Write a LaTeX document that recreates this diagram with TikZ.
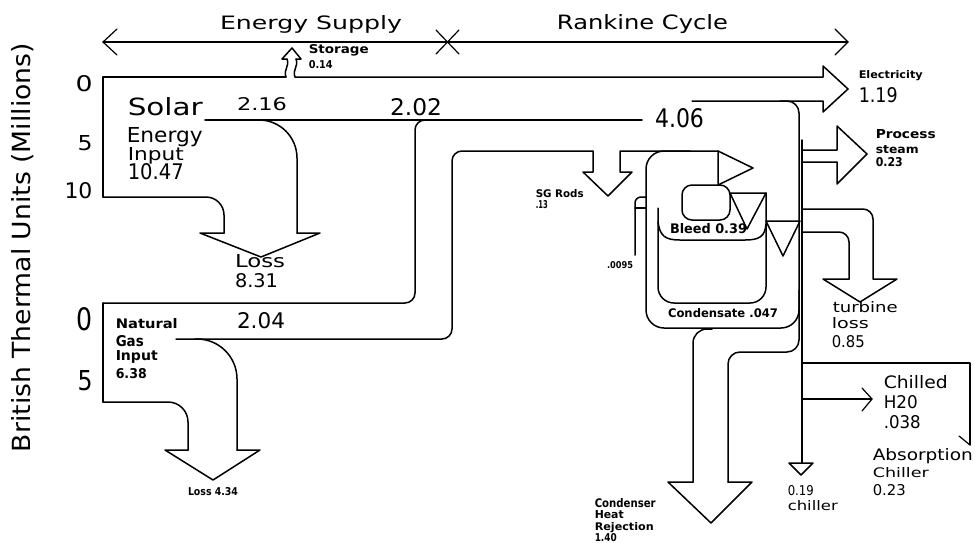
\documentclass[tikz,border=0pt]{standalone}
\usepackage{fontspec}
\setmainfont{DejaVu Sans}
\usepackage{graphicx}
\newcommand\fb[3]{\resizebox{#1pt}{#2pt}{#3}}
\begin{document}
\begin{tikzpicture}[x=1pt,y=-1pt,line width=1.5pt,line join=round,line cap=round,
  lb/.style={inner sep=0pt,anchor=base},
  lw/.style={inner sep=0pt,anchor=base west},
  thinl/.style={line width=1.2pt}]
\useasboundingbox (0,0) rectangle (975,542);
% scale arrows
\draw[thinl] (103,42) -- (848,42);
\draw[thinl] (117,29) -- (103,42) -- (117,55);
\draw[thinl] (835,29) -- (848,42) -- (835,55);
\draw[thinl] (436,30) -- (459,54);
\draw[thinl] (436,54) -- (459,30);
% solar band
\draw (286,77) -- (103,77) -- (103,197);
\draw[rounded corners=18] (103,197) -- (224,197) -- (224,233);
\draw (224,233) -- (200,233) -- (261,257) -- (320,233) -- (297,233);
\draw[rounded corners=38] (297,233) -- (297,120) -- (262,120);
\draw (205,120) -- (642,120);
% storage
\draw (286,77) .. controls (283,70) and (290,66) .. (287,59);
\draw (295,77) .. controls (292,70) and (299,66) .. (296,59);
\draw (287,59) -- (282,59) -- (292,48) -- (301,59) -- (296,59);
% top line and electricity
\draw (295,77) -- (823,77) -- (823,66) -- (848,89) -- (823,112) -- (823,101) -- (692,101);
\draw[rounded corners=12] (780,101) -- (799,101) -- (799,352) -- (728,352) -- (728,482);
% natural gas
\draw[rounded corners=10] (430,120) -- (415,120) -- (415,303) -- (103,303);
\draw (103,303) -- (103,402);
\draw[rounded corners=20] (103,402) -- (188,402) -- (188,450);
\draw (188,450) -- (165,450) -- (213,480) -- (260,450) -- (237,450);
\draw[rounded corners=40] (237,450) -- (237,339) -- (195,339);
\draw[rounded corners=10] (176,339) -- (452,339) -- (452,151) -- (593,151);
\draw (593,151) -- (593,172) -- (583,172) -- (608,196) -- (632,172) -- (620,172) -- (620,151) -- (718,151);
\draw (718,151) -- (753,168) -- (718,185) -- cycle;
% outer box
\draw[rounded corners=18] (690,151) -- (646,151) -- (646,328) -- (799,328) -- (799,290);
% .0095 branch
\draw[rounded corners=6] (646,197) -- (635,197) -- (635,255);
\draw (635,208) -- (646,208);
% middle U
\draw[rounded corners=16] (658,208) -- (658,303) -- (766,303) -- (766,193);
% bleed U
\draw (658,222) .. controls (660,236) and (665,240) .. (680,240) -- (745,240) .. controls (760,240) and (765,236) .. (766,224);
% small rounded box
\draw[rounded corners=10] (682,185) rectangle (730,220);
% triangles
\draw (730,193) -- (766,193) -- (747,229) -- cycle;
\draw (766,221) -- (800,221) -- (783,256) -- cycle;
% condenser
\draw[rounded corners=14] (712,329) -- (693,329) -- (693,482);
\draw (693,482) -- (668,482) -- (711,523) -- (752,482) -- (728,482);
% vertical and chiller
\draw (802,140) -- (802,463);
\draw (789,463) -- (813,463) -- (801,475) -- cycle;
% process steam
\draw (802,150) -- (837,150) -- (837,126) -- (867,154) -- (837,184) -- (837,162) -- (802,162);
% turbine loss
\draw[rounded corners=10] (802,209) -- (873,209) -- (873,279);
\draw[rounded corners=10] (802,232) -- (849,232) -- (849,279);
\draw (849,279) -- (823,279) -- (860,302) -- (897,279) -- (873,279);
% chilled
\draw[thinl] (802,363) -- (970,363) -- (970,445);
\draw[thinl] (959,436) -- (970,445);
\draw[thinl] (802,399) -- (872,399);
\draw[thinl] (862,388) -- (872,399) -- (862,411);
% texts
\node[lb] (es) at (311,29) {\fb{182}{14}{Energy Supply}};
\node[lb] (rc) at (642.5,29) {\fb{171}{15}{Rankine Cycle}};
\node[lb,rotate=90] (ax) at (30,247.5) {\fb{409}{19}{British Thermal Units (Millions)}};
\node[lb] (t0) at (84,91) {\fb{17}{16}{0}};
\node[lb] (t5) at (85,150) {\fb{15}{15}{5}};
\node[lb] (t10) at (78.5,198) {\fb{28}{16}{10}};
\node[lb] (u0) at (84.5,330) {\fb{16}{23}{0}};
\node[lb] (u5) at (85,390) {\fb{15}{20}{5}};
\node[lw] (solar) at (127,115) {\fb{75}{18}{Solar}};
\node[lw] (energy) at (126,142) {\fb{76}{15}{Energy}};
\node[lw] (input) at (127,160) {\fb{56}{13}{Input}};
\node[lw] (v1047) at (127,179) {\fb{56}{16}{10.47}};
\node[lb] (v216) at (262,110) {\fb{50}{13}{2.16}};
\node[lb] (v202) at (416,115) {\fb{52}{17}{2.02}};
\node[lb] (v406) at (679.5,127) {\fb{49}{19}{4.06}};
\node[lb] (loss1) at (260,267) {\fb{50}{13}{Loss}};
\node[lb] (v831) at (256.5,287) {\fb{43}{14}{8.31}};
\node[lb] (v204) at (261,328) {\fb{48}{16}{2.04}};
\node[lw] (nat) at (115,328) {\fb{62}{10}{\bfseries Natural}};
\node[lw] (gas) at (115,346) {\fb{28}{11}{\bfseries Gas}};
\node[lw] (ginput) at (115,360) {\fb{42}{10}{\bfseries Input}};
\node[lw] (v638) at (115,378) {\fb{31}{10}{\bfseries 6.38}};
\node[lb] (loss2) at (213,495) {\fb{50}{8}{\bfseries Loss 4.34}};
\node[lw] (stor) at (308,53) {\fb{60}{9}{\bfseries Storage}};
\node[lw] (v014) at (308,68) {\fb{24}{8}{\bfseries 0.14}};
\node[lw] (elec) at (858,78) {\fb{64}{8}{\bfseries Electricity}};
\node[lw] (v119) at (858,102) {\fb{39}{15}{1.19}};
\node[lw] (proc) at (875,138) {\fb{60}{9}{\bfseries Process}};
\node[lw] (steam) at (875,153) {\fb{43}{8}{\bfseries steam}};
\node[lw] (v023a) at (875,166) {\fb{27}{9}{\bfseries 0.23}};
\node[lw] (sg) at (535,197) {\fb{48}{8}{\bfseries SG Rods}};
\node[lw] (v13) at (535,208) {\fb{12}{8}{\bfseries .13}};
\node[lb] (v0095) at (620,268) {\fb{26}{7}{\bfseries .0095}};
\node[lb] (bleed) at (708.5,233) {\fb{77}{10}{\bfseries Bleed 0.39}};
\node[lb] (cond) at (723,317) {\fb{110}{9}{\bfseries Condensate .047}};
\node[lw] (turb) at (832,312) {\fb{65}{11}{turbine}};
\node[lw] (tloss) at (831,328) {\fb{37}{11}{loss}};
\node[lw] (v085) at (831,347) {\fb{33}{12}{0.85}};
\node[lw] (chil) at (883,388) {\fb{64}{13}{Chilled}};
\node[lw] (h20) at (883,408) {\fb{34}{13}{H20}};
\node[lw] (v038) at (883,428) {\fb{37}{13}{.038}};
\node[lw] (abs) at (872,460) {\fb{100}{12}{Absorption}};
\node[lw] (chiller) at (872,477) {\fb{56}{10}{Chiller}};
\node[lw] (v023b) at (872,495) {\fb{33}{11}{0.23}};
\node[lw] (v019) at (787,495) {\fb{26}{10}{0.19}};
\node[lw] (chiller2) at (787,510) {\fb{50}{10}{chiller}};
\node[lw] (condr) at (594,507) {\fb{61}{9}{\bfseries Condenser}};
\node[lw] (heat) at (594,518) {\fb{29}{8}{\bfseries Heat}};
\node[lw] (rej) at (594,530) {\fb{59}{8}{\bfseries Rejection}};
\node[lw] (v140) at (594,541) {\fb{22}{8}{\bfseries 1.40}};
\end{tikzpicture}
\end{document}
